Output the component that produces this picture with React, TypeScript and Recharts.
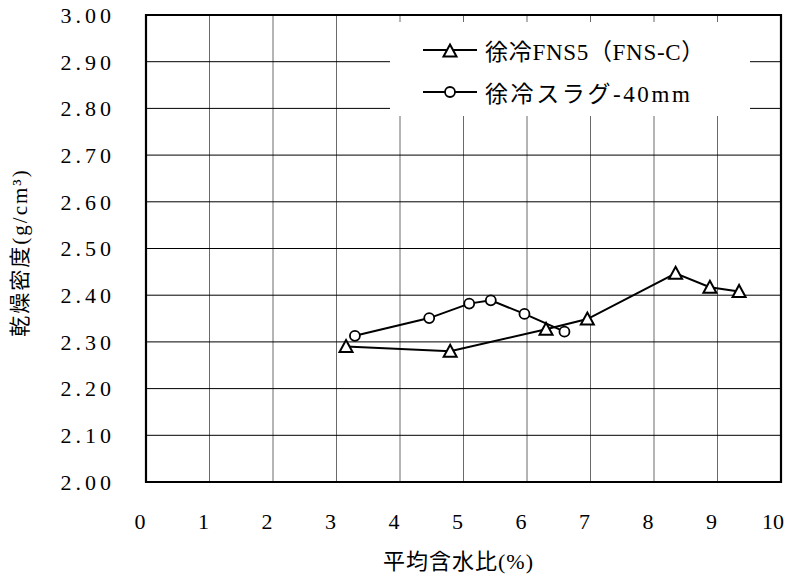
import {
  CartesianGrid,
  Legend,
  Line,
  LineChart,
  ReferenceArea,
  XAxis,
  YAxis,
} from "recharts";

const fnsName = "徐冷FNS5（FNS-C）";
const fnsX = [3.15, 4.79, 6.3, 6.95, 8.34, 8.88, 9.34];
const fnsY = [2.29, 2.28, 2.327, 2.349, 2.447, 2.417, 2.408];

const slagName = "徐冷スラグ-40mm";
const slagX = [3.29, 4.46, 5.09, 5.43, 5.96, 6.59];
const slagY = [2.313, 2.351, 2.382, 2.389, 2.36, 2.322];

const xTicks = [0, 1, 2, 3, 4, 5, 6, 7, 8, 9, 10];
const yTicks = [2.0, 2.1, 2.2, 2.3, 2.4, 2.5, 2.6, 2.7, 2.8, 2.9, 3.0];

const xTitle = "平均含水比(%)";
const yTitle = "乾燥密度(g/cm³)";

const fnsData = fnsX.map((x, i) => ({ x, y: fnsY[i] }));
const slagData = slagX.map((x, i) => ({ x, y: slagY[i] }));

const serif = "'Liberation Serif', 'Noto Sans CJK JP', serif";

function TriangleDot(props: any) {
  const { cx, cy } = props;
  if (cx == null || cy == null) return null;
  return (
    <polygon
      points={`${cx},${cy - 6.5} ${cx + 6.5},${cy + 5.5} ${cx - 6.5},${cy + 5.5}`}
      fill="#fff"
      stroke="#000"
      strokeWidth={2}
    />
  );
}

function CircleDot(props: any) {
  const { cx, cy } = props;
  if (cx == null || cy == null) return null;
  return <circle cx={cx} cy={cy} r={5} fill="#fff" stroke="#000" strokeWidth={1.8} />;
}

function LegendBox() {
  const rows = [
    { name: fnsName, shape: "tri", spacing: 0.7 },
    { name: slagName, shape: "circ", spacing: 2.6 },
  ];
  return (
    <div style={{ width: 360, height: 94, background: "#fff", position: "relative" }}>
      {rows.map((r, i) => (
        <div
          key={r.name}
          style={{
            position: "absolute",
            left: 0,
            top: 14 + i * 42,
            height: 28,
            display: "flex",
            alignItems: "center",
          }}
        >
          <svg width={95} height={28} style={{ display: "block" }}>
            <line x1={33} x2={87} y1={14} y2={14} stroke="#000" strokeWidth={2} />
            {r.shape === "tri" ? (
              <TriangleDot cx={60} cy={15} />
            ) : (
              <CircleDot cx={60} cy={14} />
            )}
          </svg>
          <span
            style={{
              fontFamily: serif,
              fontSize: 23,
              color: "#000",
              whiteSpace: "nowrap",
              letterSpacing: r.spacing,
            }}
          >
            {r.name}
          </span>
        </div>
      ))}
    </div>
  );
}

function YTitle(props: any) {
  const vb = props.viewBox || {};
  const cx = 20;
  const cy = (vb.y ?? 15) + (vb.height ?? 467) / 2 + 4;
  return (
    <text
      x={cx}
      y={cy}
      transform={`rotate(-90, ${cx}, ${cy})`}
      textAnchor="middle"
      dominantBaseline="central"
      fontFamily={serif}
      fontSize={21}
      letterSpacing={2}
      fill="#000"
    >
      {yTitle}
    </text>
  );
}

export default function App() {
  return (
    <div style={{ position: "absolute", left: 0, top: 0, width: 790, height: 574, background: "#fff" }}>
      <LineChart width={790} height={574} margin={{ top: 15, right: 9, bottom: 0, left: 0 }}>
        <CartesianGrid horizontal={false} stroke="#6a6a6a" strokeWidth={1} />
        <CartesianGrid vertical={false} stroke="#000" strokeWidth={1} />
        <XAxis
          type="number"
          dataKey="x"
          domain={[0, 10]}
          ticks={xTicks}
          allowDataOverflow
          axisLine={false}
          tickLine={false}
          tickSize={0}
          tickMargin={31}
          height={92}
          tick={{ fontFamily: serif, fontSize: 22, fill: "#000", dx: -6 }}
          label={{
            value: xTitle,
            position: "insideBottom",
            offset: 5,
            dx: -5,
            style: { fontFamily: serif, fontSize: 22, fill: "#000", letterSpacing: 1 },
          }}
        />
        <YAxis
          type="number"
          domain={[2, 3]}
          ticks={yTicks}
          allowDataOverflow
          axisLine={false}
          tickLine={false}
          tickSize={0}
          tickMargin={31}
          width={146}
          tickFormatter={(v: number) => v.toFixed(2)}
          tick={{ fontFamily: serif, fontSize: 22, fill: "#000", letterSpacing: 4 }}
          label={<YTitle />}
        />
        <ReferenceArea
          x1={0}
          x2={10}
          y1={2}
          y2={3}
          fill="none"
          fillOpacity={0}
          stroke="#000"
          strokeWidth={2.2}
          ifOverflow="visible"
        />
        <Line
          data={fnsData}
          dataKey="y"
          name={fnsName}
          type="linear"
          stroke="#000"
          strokeWidth={2}
          dot={(p: any) => <TriangleDot key={`t${p.index}`} {...p} />}
          isAnimationActive={false}
        />
        <Line
          data={slagData}
          dataKey="y"
          name={slagName}
          type="linear"
          stroke="#000"
          strokeWidth={2}
          dot={(p: any) => <CircleDot key={`c${p.index}`} {...p} />}
          isAnimationActive={false}
        />
        <Legend
          layout="vertical"
          align="center"
          verticalAlign="middle"
          content={() => <LegendBox />}
          wrapperStyle={{ left: 390, top: 22, width: 360, height: 94, right: "auto", bottom: "auto" }}
        />
      </LineChart>
    </div>
  );
}
